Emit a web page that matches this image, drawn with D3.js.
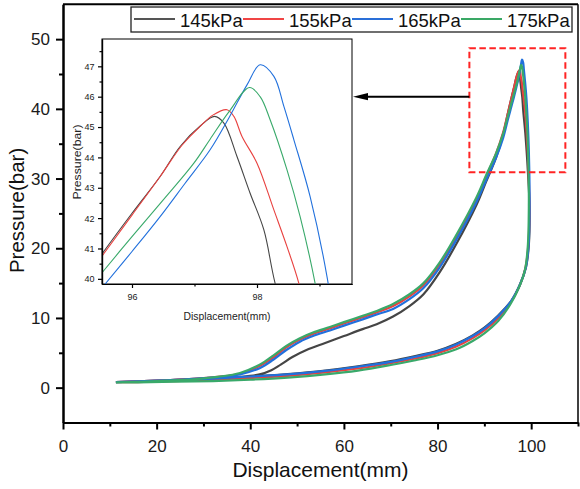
<!DOCTYPE html>
<html><head><meta charset="utf-8">
<script src="https://cdn.jsdelivr.net/npm/d3@7"></script>
<style>
body{margin:0;background:#fff}
text{font-family:"Liberation Sans",Arial,sans-serif}
</style>
</head><body>
<svg id="c" width="580" height="489"></svg>
<script>
// ---------- data ----------
const seriesNames = ["145kPa", "155kPa", "165kPa", "175kPa"];
const xTicksMain = [0, 20, 40, 60, 80, 100];
const xMinorMain = [10, 30, 50, 70, 90, 110];
const yTicksMain = [0, 10, 20, 30, 40, 50];
const yMinorMain = [5, 15, 25, 35, 45];
const xTicksInset = [96, 98];
const xMinorInset = [97, 99];
const yTicksInset = [40, 41, 42, 43, 44, 45, 46, 47];
const yMinorInset = [40.5, 41.5, 42.5, 43.5, 44.5, 45.5, 46.5, 47.5];

const loop145 = [[11.3,0.8],[16,0.9],[22,1.05],[28,1.25],[33,1.4],[38,1.55],[42,1.9],[44.5,2.5],[46.5,3.3],[49,4.4],[52,5.4],[56,6.4],[60,7.4],[64,8.4],[67,9.1],[70.5,10.2],[74,11.7],[77,13.4],[80.4,16.5],[84,20.6],[88.3,26.2],[90.4,29.6],[92.5,33.0],[94,36.3],[95.0,39.3],[95.52,40.82],[96.0,42.16],[96.45,43.37],[96.77,44.36],[97.1,45.05],[97.32,45.35],[97.47,45.13],[97.68,44.03],[97.89,42.82],[98.11,41.61],[98.29,39.85],[98.75,36.5],[99.3,31],[99.65,26],[99.5,20.5],[98.9,17.3],[97.7,14.9],[95.8,12.5],[93,10.4],[90,8.6],[87.5,7.5],[84,6.3],[80,5.3],[75,4.5],[70,3.8],[63,3.05],[56,2.45],[48,1.95],[40,1.6],[32,1.3],[24,1.05],[16,0.9],[11.3,0.8]];
const loop155 = [[11.3,0.8],[16,0.9],[22,1.05],[28,1.25],[33,1.55],[37.8,2.0],[42,3.1],[44.9,4.3],[47.7,5.8],[50.6,6.9],[53.4,7.7],[57,8.5],[60,9.2],[64,10.1],[67,10.8],[70.5,11.7],[74,13.1],[77,14.7],[80.4,17.6],[84,21.6],[88.3,27.0],[90.4,30.3],[92.5,33.6],[94,36.6],[95.0,39.3],[95.52,40.75],[96.0,42.1],[96.45,43.37],[96.8,44.4],[97.09,45.02],[97.3,45.4],[97.52,45.57],[97.63,45.35],[97.76,44.69],[98.0,43.81],[98.27,42.27],[98.48,41.06],[98.67,39.85],[99.05,36.5],[99.45,31],[99.6,26],[99.4,20.5],[98.75,17.1],[97.5,14.6],[95.6,12.2],[93,10.0],[90,8.2],[87.5,7.1],[84,5.9],[80,4.95],[75,4.15],[70,3.5],[63,2.75],[56,2.2],[48,1.7],[40,1.4],[32,1.15],[24,0.95],[16,0.8],[11.3,0.8]];
const loop165 = [[11.3,0.8],[16,0.9],[22,1.05],[28,1.25],[33,1.5],[37.8,1.9],[42,2.8],[44.9,4.0],[47.7,5.4],[50.6,6.6],[53.4,7.4],[57,8.2],[60,8.9],[64,9.8],[67,10.5],[70.5,11.3],[74,12.7],[77,14.3],[80.4,17.2],[84,21.2],[88.3,26.6],[90.4,29.8],[92.5,33.0],[94,35.8],[95.0,38.4],[95.57,39.83],[96.0,40.9],[96.45,42.05],[96.85,43.15],[97.25,44.25],[97.55,45.3],[97.84,46.39],[98.05,47.05],[98.27,46.67],[98.43,45.68],[98.59,44.58],[98.85,42.71],[99.12,40.07],[99.4,36],[99.6,31],[99.65,26],[99.45,20.5],[98.85,17.2],[97.6,14.8],[95.7,12.4],[93,10.3],[90,8.5],[87.5,7.4],[84,6.2],[80,5.2],[75,4.4],[70,3.7],[63,3.0],[56,2.4],[48,1.9],[40,1.6],[32,1.3],[24,1.05],[16,0.9],[11.3,0.8]];
const loop175 = [[11.3,0.75],[16,0.85],[22,1.0],[28,1.2],[33,1.55],[37.8,2.1],[42,3.3],[44.9,4.6],[47.7,6.0],[50.6,7.1],[53.4,7.9],[57,8.7],[60,9.4],[64,10.3],[67,11.0],[70.5,12.0],[74,13.4],[77,15.0],[80.4,17.9],[84,21.9],[88.3,27.3],[90.4,30.5],[92.5,33.6],[94,36.4],[95.0,38.9],[95.52,40.2],[96.0,41.39],[96.5,42.6],[96.99,43.81],[97.25,44.6],[97.55,45.5],[97.88,46.3],[98.05,46.0],[98.21,45.24],[98.48,43.59],[98.69,42.05],[98.93,39.85],[99.2,36.5],[99.45,31],[99.5,26],[99.3,20.5],[98.7,17],[97.4,14.4],[95.5,11.9],[93,9.6],[90,7.8],[87.5,6.7],[84,5.5],[80,4.65],[75,3.9],[70,3.25],[63,2.45],[56,1.9],[48,1.45],[40,1.15],[32,0.95],[24,0.85],[16,0.75],[11.3,0.75]];
const loops = [loop145, loop155, loop165, loop175];
const zoomBox = [[86.8, 48.7], [107.3, 30.9]]; // region shown in inset (data coords)

// ---------- styles ----------
const colors = ["#454545", "#e8413f", "#2170dc", "#39a96a"];
const legendColors = ["#555555", "#f04545", "#2a6fd8", "#3aa865"];

const svg = d3.select("#c");
const M = {l: 63, r: 578, t: 4.3, b: 422.5};
const x = d3.scaleLinear().domain([0, 110]).range([M.l, M.r]);
const y = d3.scaleLinear().domain([-5, 55]).range([M.b, M.t]);

// frame top/right
svg.append("line").attr("x1", M.l).attr("x2", M.r).attr("y1", M.t).attr("y2", M.t).attr("stroke", "#000").attr("stroke-width", 2);
svg.append("line").attr("x1", M.r).attr("x2", M.r).attr("y1", M.t).attr("y2", M.b).attr("stroke", "#000").attr("stroke-width", 1.5);

function styleAxis(g, sw, fs) {
  g.selectAll("path").attr("stroke", "#000").attr("stroke-width", sw);
  g.selectAll("line").attr("stroke", "#000").attr("stroke-width", sw);
  g.selectAll("text").attr("fill", "#1a1a1a").style("font-size", fs + "px").style("font-family", '"Liberation Sans",Arial,sans-serif');
}

// main axes
const gxm = svg.append("g").attr("transform", `translate(0,${M.b})`)
  .call(d3.axisBottom(x).tickValues(xMinorMain).tickSize(4).tickSizeOuter(0).tickFormat(""));
styleAxis(gxm, 2, 17);
const gx = svg.append("g").attr("transform", `translate(0,${M.b})`)
  .call(d3.axisBottom(x).tickValues(xTicksMain).tickSize(7).tickSizeOuter(0).tickPadding(10).tickFormat(d3.format("d")));
styleAxis(gx, 2, 17);
const gym = svg.append("g").attr("transform", `translate(${M.l},0)`)
  .call(d3.axisLeft(y).tickValues(yMinorMain).tickSize(4).tickSizeOuter(0).tickFormat(""));
styleAxis(gym, 2, 17);
const gy = svg.append("g").attr("transform", `translate(${M.l},0)`)
  .call(d3.axisLeft(y).tickValues(yTicksMain).tickSize(7).tickSizeOuter(0).tickPadding(6).tickFormat(d3.format("d")));
styleAxis(gy, 2, 17);

svg.append("text").attr("x", (M.l + M.r) / 2).attr("y", 477).attr("text-anchor", "middle")
  .style("font-size", "21px").attr("fill", "#111").text("Displacement(mm)");
svg.append("text").attr("transform", `translate(24,${(M.t + M.b) / 2 - 3}) rotate(-90)`).attr("text-anchor", "middle")
  .style("font-size", "20.5px").attr("fill", "#111").text("Pressure(bar)");

// main curves
const lineMain = d3.line().x(d => x(d[0])).y(d => y(d[1])).curve(d3.curveCatmullRom.alpha(0.5));
loops.forEach((L, i) => {
  svg.append("path").datum(L).attr("d", lineMain).attr("fill", "none")
    .attr("stroke", colors[i]).attr("stroke-width", 2.2).attr("stroke-linejoin", "round");
});

// red dashed zoom box
svg.append("rect").attr("x", x(zoomBox[0][0])).attr("y", y(zoomBox[0][1]))
  .attr("width", x(zoomBox[1][0]) - x(zoomBox[0][0])).attr("height", y(zoomBox[1][1]) - y(zoomBox[0][1]))
  .attr("fill", "none").attr("stroke", "#ff2424").attr("stroke-width", 2).attr("stroke-dasharray", "6.5,3.5");

// ---------- inset ----------
const I = {l: 102, r: 352, t: 39, b: 284};
const xi = d3.scaleLinear().domain([95.52, 99.52]).range([I.l, I.r]);
const yi = d3.scaleLinear().domain([39.83, 47.9]).range([I.b, I.t]);
const gi = svg.append("g");
gi.append("rect").attr("x", I.l).attr("y", I.t).attr("width", I.r - I.l).attr("height", I.b - I.t)
  .attr("fill", "#fff").attr("stroke", "#000").attr("stroke-width", 1);
svg.append("defs").append("clipPath").attr("id", "ic").append("rect")
  .attr("x", I.l).attr("y", I.t).attr("width", I.r - I.l).attr("height", I.b - I.t);
const lineInset = d3.line().x(d => xi(d[0])).y(d => yi(d[1])).curve(d3.curveCatmullRom.alpha(0.5));
const gcl = gi.append("g").attr("clip-path", "url(#ic)");
loops.forEach((L, i) => {
  gcl.append("path").datum(L).attr("d", lineInset).attr("fill", "none")
    .attr("stroke", colors[i]).attr("stroke-width", 1.1);
});
const gxim = gi.append("g").attr("transform", `translate(0,${I.b})`)
  .call(d3.axisBottom(xi).tickValues(xMinorInset).tickSize(2.5).tickSizeOuter(0).tickFormat(""));
styleAxis(gxim, 1.2, 9);
const gxi = gi.append("g").attr("transform", `translate(0,${I.b})`)
  .call(d3.axisBottom(xi).tickValues(xTicksInset).tickSize(4).tickSizeOuter(0).tickPadding(6).tickFormat(d3.format("d")));
styleAxis(gxi, 1.2, 9);
const gyim = gi.append("g").attr("transform", `translate(${I.l},0)`)
  .call(d3.axisLeft(yi).tickValues(yMinorInset).tickSize(2.5).tickSizeOuter(0).tickFormat(""));
styleAxis(gyim, 1.2, 9);
const gyi = gi.append("g").attr("transform", `translate(${I.l},0)`)
  .call(d3.axisLeft(yi).tickValues(yTicksInset).tickSize(4).tickSizeOuter(0).tickPadding(3.5).tickFormat(d3.format("d")));
styleAxis(gyi, 1.2, 9);
gi.append("text").attr("x", (I.l + I.r) / 2).attr("y", 320).attr("text-anchor", "middle")
  .attr("textLength", 87).attr("lengthAdjust", "spacingAndGlyphs")
  .style("font-size", "11.5px").attr("fill", "#222").text("Displacement(mm)");
gi.append("text").attr("transform", `translate(81,162) rotate(-90)`).attr("text-anchor", "middle")
  .attr("textLength", 75).attr("lengthAdjust", "spacingAndGlyphs")
  .style("font-size", "11px").attr("fill", "#222").text("Pressure(bar)");

// arrow from zoom box to inset
const ay = 96.7;
svg.append("line").attr("x1", x(zoomBox[0][0])).attr("x2", I.r + 12).attr("y1", ay).attr("y2", ay)
  .attr("stroke", "#000").attr("stroke-width", 2);
svg.append("path").attr("d", `M${I.r + 1},${ay} L${I.r + 16},${ay - 3.6} L${I.r + 16},${ay + 3.6} Z`).attr("fill", "#000");

// ---------- legend ----------
const lg = svg.append("g");
lg.append("rect").attr("x", 131).attr("y", 7).attr("width", 441).attr("height", 25)
  .attr("fill", "#fff").attr("stroke", "#222").attr("stroke-width", 1.3);
seriesNames.forEach((n, i) => {
  const x0 = 134 + 109 * i;
  lg.append("line").attr("x1", x0).attr("x2", x0 + 41).attr("y1", 19).attr("y2", 19)
    .attr("stroke", legendColors[i]).attr("stroke-width", 2);
  lg.append("text").attr("x", x0 + 46).attr("y", 26.5).style("font-size", "18.5px").attr("fill", "#111").text(n);
});
</script>
</body></html>
